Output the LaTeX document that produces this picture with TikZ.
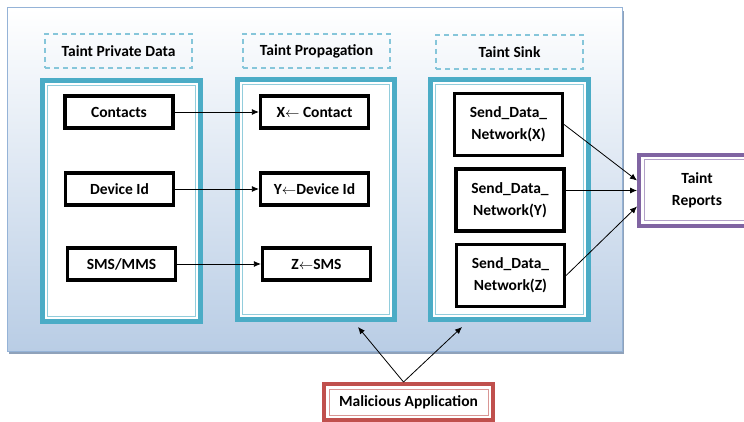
\documentclass[tikz,border=0pt]{standalone}
\usepackage{fontspec}
\setmainfont{Carlito}
\usetikzlibrary{arrows.meta}

\definecolor{aquadark}{HTML}{4BACC6}
\definecolor{aqualight}{HTML}{92CDDC}
\definecolor{aquadash}{HTML}{86C6DA}
\definecolor{panelline}{HTML}{95B3D7}
\definecolor{panelfill}{HTML}{B9CDE5}
\definecolor{panelshadow}{HTML}{8FA2BA}
\definecolor{purpdark}{HTML}{8064A2}
\definecolor{purplight}{HTML}{B2A1C7}
\definecolor{reddark}{HTML}{C0504D}
\definecolor{redlight}{HTML}{D99694}

\begin{document}
\begin{tikzpicture}[x=1pt, y=-1pt,
font=\fontsize{15.5}{22}\selectfont\bfseries,
>={Latex[length=7pt,width=6pt]},
box/.style={rectangle, draw=black, line width=3.2pt, fill=white, minimum width=108pt, minimum height=32pt, inner sep=1pt},
sendbox/.style={box, minimum height=62pt, align=center},
header/.style={rectangle, draw=aquadash, dashed, dash pattern=on 5pt off 4pt, line width=1.5pt, minimum width=147pt, minimum height=34pt},
colframe/.style={rectangle, draw=aquadark, line width=4.5pt, fill=white},
colinner/.style={rectangle, draw=aqualight, line width=1pt},
report/.style={rectangle, draw=purpdark, line width=4pt, fill=white, minimum width=116pt, minimum height=71pt, align=center},
malapp/.style={rectangle, draw=reddark, line width=4pt, fill=white, minimum width=169pt, minimum height=36pt},
link/.style={->, line width=0.8pt}
]
\useasboundingbox (0,0) rectangle (744,422);
%Panel
\fill[panelshadow] (9,11) rectangle (624,354);
\shade[top color=white, bottom color=panelfill, middle color=white!50!panelfill] (7,8) rectangle (622,351);
\draw[panelline, line width=1pt] (7,8) rectangle (622,351);
%Headers
\node[header] (h1) at (118.5,51) {Taint Private Data};
\node[header] (h2) at (316.5,51) {Taint Propagation};
\node[header] (h3) at (509.5,52) {Taint Sink};
%Frames
\node[colframe, minimum width=158pt, minimum height=241pt] (col1) at (121.5,201) {};
\node[colinner, minimum width=148pt, minimum height=231pt] at (col1) {};
\node[colframe, minimum width=157pt, minimum height=240pt] (col2) at (316,199.5) {};
\node[colinner, minimum width=147pt, minimum height=230pt] at (col2) {};
\node[colframe, minimum width=158pt, minimum height=240pt] (col3) at (509.5,199.5) {};
\node[colinner, minimum width=148pt, minimum height=230pt] at (col3) {};
%Nodes
\node[box] (pd1) at (119,112) {Contacts};
\node[box] (pd2) at (119.5,189) {Device Id};
\node[box] (pd3) at (121.5,264) {SMS/MMS};
\node[box] (tp1) at (314.5,112) {X$\leftarrow$ Contact};
\node[box] (tp2) at (314.5,189) {Y$\leftarrow$Device Id};
\node[box] (tp3) at (316.5,264) {Z$\leftarrow$SMS};
\node[sendbox] (sx) at (508.5,124.5) {Send\_Data\_\\Network(X)};
\node[sendbox] (sy) at (510,200) {Send\_Data\_\\Network(Y)};
\node[sendbox] (sz) at (510.5,275.5) {Send\_Data\_\\Network(Z)};
\node[report] (rep) at (697,190.5) {Taint\\Reports};
\node[colinner, draw=purplight, minimum width=106pt, minimum height=61pt] at (rep) {};
\node[malapp] (mal) at (408.5,402) {Malicious Application};
\node[colinner, draw=redlight, minimum width=159pt, minimum height=26pt] at (mal) {};
\coordinate (ma1) at (358,327);
\coordinate (ma2) at (462,327);
%Lines
\draw[link] (pd1) -- (tp1);
\draw[link] (pd2) -- (tp2);
\draw[link] (pd3) -- (tp3);
\draw[link] (sx.east) -- ([yshift=10pt]rep.west);
\draw[link] (sy.east |- rep.west) -- (rep.west);
\draw[link] (sz.east) -- ([yshift=-16pt]rep.west);
\draw[link] ([xshift=-5pt]mal.north) -- (ma1);
\draw[link] ([xshift=-5pt]mal.north) -- (ma2);
\end{tikzpicture}
\end{document}
